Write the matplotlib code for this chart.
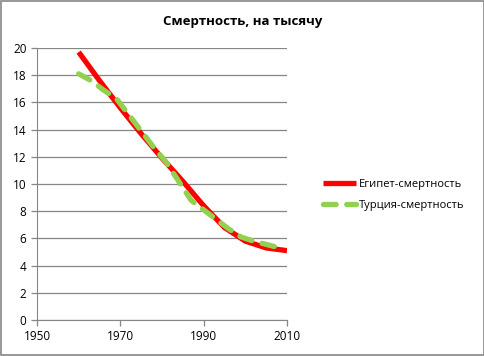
import matplotlib.pyplot as plt

#%% Data
years_egypt = [1960, 1965, 1970, 1975, 1980, 1985, 1990, 1995, 2000, 2005, 2010]
egypt = [19.7, 17.6, 15.6, 13.7, 11.9, 10.2, 8.4, 6.8, 5.8, 5.3, 5.1]

years_turkey = [1960, 1963, 1966, 1969, 1972, 1975, 1978, 1981, 1984, 1987, 1990, 1993, 1996, 1999, 2002, 2007]
turkey = [18.1, 17.6, 16.9, 16.3, 15.1, 13.9, 12.7, 11.6, 10.2, 8.8, 8.1, 7.4, 6.7, 6.1, 5.8, 5.4]

x_ticks = [1950, 1970, 1990, 2010]
y_ticks = list(range(0, 21, 2))

#%% Plot
plt.rcParams['font.family'] = ['Open Sans', 'DejaVu Sans']
fig = plt.figure(figsize=(4.85, 3.56), dpi=100)
ax = fig.add_axes([37/485, 1 - 320/356, 250/485, 272/356])

ax.plot(years_egypt, egypt, color='#FF0000', lw=3.8, solid_capstyle='butt',
        label='Египет-смертность', zorder=3)
ax.plot(years_turkey, turkey, color='#92D050', lw=3.8, dashes=(2.4, 2.0),
        dash_capstyle='round', label='Турция-смертность', zorder=4)

ax.set_xlim(1950, 2010)
ax.set_ylim(0, 20)
ax.set_xticks(x_ticks)
ax.set_yticks(y_ticks)
ax.grid(axis='y', color='#868686', lw=0.9)
ax.set_axisbelow(True)
for s in ['top', 'right']:
    ax.spines[s].set_visible(False)
for s in ['left', 'bottom']:
    ax.spines[s].set_color('#868686')
ax.tick_params(colors='#868686', labelcolor='black', labelsize=8.5, length=4, width=0.9)

fig.text(0.5, 1 - 22/356, 'Смертность, на тысячу', fontsize=9.5, fontweight='bold',
         ha='center', va='center')

fig.legend(loc='center left', bbox_to_anchor=(313/485, 1 - 195/356), frameon=False,
           fontsize=8, handlelength=3.0, handletextpad=0.2, labelspacing=0.9)

# outer border
fig.patches.append(plt.Rectangle((0.002, 0.003), 0.995, 0.994, transform=fig.transFigure,
                                 fill=False, ec='#868686', lw=1.2))

fig.savefig('out.png', dpi=100)
